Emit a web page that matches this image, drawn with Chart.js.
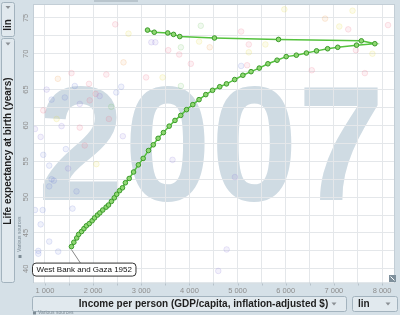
<!DOCTYPE html>
<html>
<head>
<meta charset="utf-8">
<script src="https://cdn.jsdelivr.net/npm/chart.js@4.4.0/dist/chart.umd.min.js"></script>
<style>
  html, body { margin: 0; padding: 0; background: #d5e0e7; }
  #wrap { width: 400px; height: 315px; }
</style>
</head>
<body>
<div id="wrap"><canvas id="gapChart" width="400" height="315"></canvas></div>
<script>
// year shown behind the bubbles and the country being traced
const year = "2007";
const countryName = "West Bank and Gaza";
const startYear = 1952;

// trail of West Bank and Gaza (income $, life expectancy years)
const income = [1550, 1600, 1660, 1700, 1760, 1810, 1860, 1920, 1980, 2030, 2090, 2140, 2200, 2270, 2320,
  2380, 2440, 2490, 2550, 2610, 2670, 2750, 2840, 2940, 3040, 3150, 3250, 3350, 3460, 3580, 3700, 3820,
  3940, 4070, 4200, 4340, 4480, 4630, 4770, 4940, 5110, 5280, 5450, 5630, 5820, 6010, 6220, 6430, 6640,
  6870, 7080, 7470, 7850, 7570, 5850, 4520, 3800, 3670, 3550, 3270, 3130];
const lifeExp = [43.1, 43.7, 44.3, 44.8, 45.2, 45.6, 46.0, 46.3, 46.7, 47.1, 47.5, 47.8, 48.2, 48.6, 48.9,
  49.4, 49.9, 50.4, 50.9, 51.3, 52.0, 52.6, 53.5, 54.5, 55.4, 56.5, 57.3, 58.2, 59.0, 59.9, 60.7, 61.4,
  62.2, 62.9, 63.6, 64.3, 64.9, 65.4, 65.8, 66.4, 67.0, 67.5, 68.0, 68.6, 69.1, 69.6, 69.8, 70.1, 70.4,
  70.7, 70.9, 71.2, 71.4, 71.8, 72.0, 72.2, 72.4, 72.7, 72.9, 73.0, 73.3];

// faded bubbles of the other countries
const otherIncome = [2460, 2735, 2631, 1551, 1268, 2274, 1035, 1620, 1915, 1138, 1413, 2053, 2136, 1929, 1723,
  965, 2481, 2584, 1242, 794, 911, 1345, 1723, 2328, 2377, 2617, 1826, 1434, 965, 1089, 1481, 2068, 1138,
  1186, 1089, 1655, 794, 953, 1572, 911, 1089, 862, 862, 1275, 4236, 5074, 5233, 5578, 3210, 3292, 3561,
  3823, 3788, 4201, 4422, 4029, 5074, 5198, 5233, 3100, 3443, 3823, 5971, 7387, 6817, 7112, 7298, 8124,
  7457, 7800, 6541, 7643, 4773, 4599, 3649, 4944];
const otherLife = [74.1, 72.8, 68.8, 67.3, 66.5, 67.1, 65.0, 65.5, 65.8, 63.6, 63.9, 64.4, 64.1, 63.5, 63.0,
  62.1, 64.6, 65.4, 60.9, 59.5, 58.4, 59.9, 59.7, 60.9, 62.6, 58.5, 57.2, 56.7, 55.9, 54.4, 54.0, 54.6, 52.5,
  52.3, 51.5, 50.8, 48.2, 48.2, 48.4, 46.2, 43.8, 42.5, 42.1, 42.4, 73.9, 73.1, 71.3, 71.3, 71.6, 71.6, 70.5,
  70.9, 69.9, 71.7, 70.9, 68.6, 68.3, 68.4, 70.2, 66.7, 66.7, 65.5, 76.2, 76.0, 74.9, 73.8, 73.4, 74.0,
  70.5, 70.0, 67.7, 67.3, 42.7, 39.7, 55.2, 52.8];
const otherRegion = ['r', 'y', 'o', 'r', 'o', 'r', 'p', 'b', 'r', 'b', 'b', 'r', 'p', 'r', 'p',
  'r', 'b', 'b', 'y', 'p', 'p', 'p', 'r', 'r', 'g', 'p', 'r', 'b', 'b', 'b', 'p', 'y', 'b',
  'b', 'b', 'b', 'b', 'b', 'b', 'b', 'b', 'b', 'b', 'b', 'g', 'r', 'r', 'y', 'p', 'p', 'r',
  'g', 'r', 'y', 'o', 'r', 'b', 'r', 'y', 'r', 'y', 'g', 'y', 'y', 'o', 'y', 'r', 'r',
  'r', 'y', 'r', 'r', 'p', 'p', 'p', 'p'];

// axes
const xGridValues = [1000, 1500, 2000, 2500, 3000, 3500, 4000, 4500, 5000, 5500, 6000, 6500, 7000, 7500, 8000];
const yGridValues = [40, 42.5, 45, 47.5, 50, 52.5, 55, 57.5, 60, 62.5, 65, 67.5, 70, 72.5, 75];
const xLabelValues = [1000, 2000, 3000, 4000, 5000, 6000, 7000, 8000];
const yLabelValues = [40, 45, 50, 55, 60, 65, 70, 75];
const xRange = [752, 8269];
const yRange = [37.95, 76.8];

const xTitle = "Income per person (GDP/capita, inflation-adjusted $)";
const yTitle = "Life expectancy at birth (years)";
const scaleType = "lin";
const sourceNote = "Various sources";

const regionColors = {
  r: [236, 110, 135], y: [225, 215, 60], b: [110, 130, 215],
  p: [140, 120, 215], g: [110, 195, 95], o: [240, 155, 75]
};
const panelColor = '#d5e0e7';
const boxFill = '#e1e9ee';
const boxLine = '#a3b3be';
const FONT = '"Liberation Sans", Arial, sans-serif';

function fmtThousands(v) {
  return String(v).replace(/\B(?=(\d{3})+(?!\d))/g, ' ');
}

function rrect(ctx, x, y, w, h, r) {
  ctx.beginPath();
  ctx.moveTo(x + r, y);
  ctx.lineTo(x + w - r, y);
  ctx.arcTo(x + w, y, x + w, y + r, r);
  ctx.lineTo(x + w, y + h - r);
  ctx.arcTo(x + w, y + h, x + w - r, y + h, r);
  ctx.lineTo(x + r, y + h);
  ctx.arcTo(x, y + h, x, y + h - r, r);
  ctx.lineTo(x, y + r);
  ctx.arcTo(x, y, x + r, y, r);
  ctx.closePath();
}

function downArrow(ctx, cx, cy) {
  ctx.fillStyle = '#8a8f94';
  ctx.beginPath();
  ctx.moveTo(cx - 2.5, cy - 1.5);
  ctx.lineTo(cx + 2.5, cy - 1.5);
  ctx.lineTo(cx, cy + 1.5);
  ctx.closePath();
  ctx.fill();
}

function panelBox(ctx, x, y, w, h) {
  rrect(ctx, x, y, w, h, 2);
  ctx.fillStyle = boxFill;
  ctx.fill();
  ctx.strokeStyle = boxLine;
  ctx.lineWidth = 1;
  ctx.stroke();
}

// panels, watermark, labels and the frame around the plot
const gapChrome = {
  id: 'gapChrome',
  beforeDraw(chart) {
    const { ctx, chartArea: a } = chart;
    ctx.save();
    ctx.fillStyle = panelColor;
    ctx.fillRect(0, 0, chart.width, chart.height);
    ctx.fillStyle = '#ffffff';
    ctx.fillRect(a.left, a.top, a.right - a.left, a.bottom - a.top);
    ctx.fillStyle = '#cfdbe3';
    ctx.font = 'bold 164px ' + FONT;
    ctx.textAlign = 'center';
    ctx.textBaseline = 'alphabetic';
    ctx.save();
    ctx.translate((a.left + a.right) / 2 - 3, a.top + 195);
    ctx.scale(0.95, 1);
    ctx.fillText(year, 0, 0);
    ctx.restore();
    ctx.restore();
  },
  afterDraw(chart) {
    const { ctx, chartArea: a } = chart;
    const xs = chart.scales.x, ys = chart.scales.y;
    ctx.save();

    // plot frame and top slider tab
    ctx.strokeStyle = '#c3ced6';
    ctx.lineWidth = 1;
    ctx.strokeRect(a.left + 0.5, a.top - 0.5, a.right - a.left - 1, a.bottom - a.top);
    ctx.fillStyle = '#b9c5cd';
    ctx.fillRect(94, 0, 44, 2);

    // start-of-trail label
    const p0x = xs.getPixelForValue(income[0]);
    const p0y = ys.getPixelForValue(lifeExp[0]);
    const label = countryName + ' ' + startYear;
    ctx.font = '8px ' + FONT;
    const tw = ctx.measureText(label).width;
    const bx = a.left - 0.5, by = p0y + 16.5, bw = tw + 8, bh = 13;
    ctx.strokeStyle = '#888';
    ctx.beginPath();
    ctx.moveTo(p0x, p0y + 3);
    ctx.lineTo(p0x + 9, by);
    ctx.stroke();
    rrect(ctx, bx, by, bw, bh, 3.5);
    ctx.fillStyle = '#ffffff';
    ctx.fill();
    ctx.strokeStyle = '#333';
    ctx.stroke();
    ctx.fillStyle = '#111';
    ctx.textAlign = 'left';
    ctx.textBaseline = 'middle';
    ctx.fillText(label, bx + 4, by + bh / 2 + 0.5);

    // x tick labels
    ctx.fillStyle = '#8e8e8e';
    ctx.font = '7.5px ' + FONT;
    ctx.textAlign = 'center';
    ctx.textBaseline = 'middle';
    xLabelValues.forEach(v => {
      ctx.fillText(fmtThousands(v), xs.getPixelForValue(v), a.bottom + 7.5);
    });
    // small tick marks on the axis band
    ctx.strokeStyle = '#b5c1c9';
    xGridValues.forEach(v => {
      const px = Math.round(xs.getPixelForValue(v)) + 0.5;
      ctx.beginPath();
      ctx.moveTo(px, a.bottom);
      ctx.lineTo(px, a.bottom + 2);
      ctx.stroke();
    });

    // y tick labels, rotated
    yLabelValues.forEach(v => {
      ctx.save();
      ctx.translate(26, ys.getPixelForValue(v));
      ctx.rotate(-Math.PI / 2);
      ctx.fillStyle = '#8e8e8e';
      ctx.fillText(String(v), 0, 0);
      ctx.restore();
    });

    // left panel: scale selector and y title
    panelBox(ctx, 1.5, 2.5, 13, 34);
    downArrow(ctx, 8, 7.5);
    panelBox(ctx, 1.5, 38.5, 13, 244);
    downArrow(ctx, 8, 44);
    ctx.fillStyle = '#1e1e1e';
    ctx.font = 'bold 10px ' + FONT;
    ctx.save();
    ctx.translate(8.5, 25);
    ctx.rotate(-Math.PI / 2);
    ctx.fillText(scaleType, 0, 0);
    ctx.restore();
    ctx.save();
    ctx.translate(8.5, 151);
    ctx.rotate(-Math.PI / 2);
    ctx.fillText(yTitle, 0, 0);
    ctx.restore();

    // bottom panel: x title and scale selector
    panelBox(ctx, 32.5, 296.5, 314, 15);
    downArrow(ctx, 334, 304);
    panelBox(ctx, 352.5, 296.5, 45, 15);
    downArrow(ctx, 388, 304);
    ctx.fillStyle = '#1e1e1e';
    ctx.font = 'bold 10px ' + FONT;
    ctx.fillText(xTitle, 203.5, 304.5);
    ctx.textAlign = 'left';
    ctx.fillText(scaleType, 358, 304.5);

    // source notes
    ctx.fillStyle = '#7d8b95';
    ctx.font = '5px ' + FONT;
    ctx.fillText(sourceNote, 38, 313);
    ctx.fillRect(33, 311.5, 3, 3);
    ctx.save();
    ctx.translate(20, 252);
    ctx.rotate(-Math.PI / 2);
    ctx.fillText(sourceNote, 0, 0);
    ctx.restore();
    ctx.fillRect(18.5, 255, 3, 3);

    // resize handle in the plot corner
    ctx.fillStyle = '#7f909c';
    ctx.fillRect(389, 275, 7, 7);
    ctx.strokeStyle = '#ffffff';
    ctx.beginPath();
    ctx.moveTo(390.5, 276.5);
    ctx.lineTo(394.5, 280.5);
    ctx.stroke();

    ctx.restore();
  }
};

const otherPoints = otherIncome.map((v, i) => ({ x: v, y: otherLife[i] }));
const otherFill = otherRegion.map(r => 'rgba(' + regionColors[r].join(',') + ',0.10)');
const otherEdge = otherRegion.map(r => 'rgba(' + regionColors[r].join(',') + ',0.18)');

new Chart(document.getElementById('gapChart'), {
  type: 'scatter',
  data: {
    datasets: [{
      label: countryName,
      data: income.map((v, i) => ({ x: v, y: lifeExp[i] })),
      showLine: true,
      borderColor: '#55c23e',
      borderWidth: 1.5,
      pointRadius: 2.3,
      pointBackgroundColor: '#8fd872',
      pointBorderColor: '#3b9a2b',
      pointBorderWidth: 1,
      tension: 0
    }, {
      label: 'others',
      data: otherPoints,
      pointRadius: 2.8,
      pointBackgroundColor: otherFill,
      pointBorderColor: otherEdge,
      pointBorderWidth: 1
    }]
  },
  options: {
    responsive: false,
    animation: false,
    devicePixelRatio: 1,
    layout: { padding: { left: 33, right: 3, top: 0, bottom: 31.5 } },
    plugins: { legend: { display: false }, tooltip: { enabled: false } },
    scales: {
      x: {
        type: 'linear',
        min: xRange[0],
        max: xRange[1],
        afterBuildTicks: s => { s.ticks = xGridValues.map(v => ({ value: v })); },
        ticks: { display: false },
        grid: { color: '#e4e7ea', drawTicks: false },
        border: { display: false }
      },
      y: {
        type: 'linear',
        min: yRange[0],
        max: yRange[1],
        afterBuildTicks: s => { s.ticks = yGridValues.map(v => ({ value: v })); },
        ticks: { display: false },
        grid: { color: '#e4e7ea', drawTicks: false },
        border: { display: false }
      }
    }
  },
  plugins: [gapChrome]
});
</script>
</body>
</html>
